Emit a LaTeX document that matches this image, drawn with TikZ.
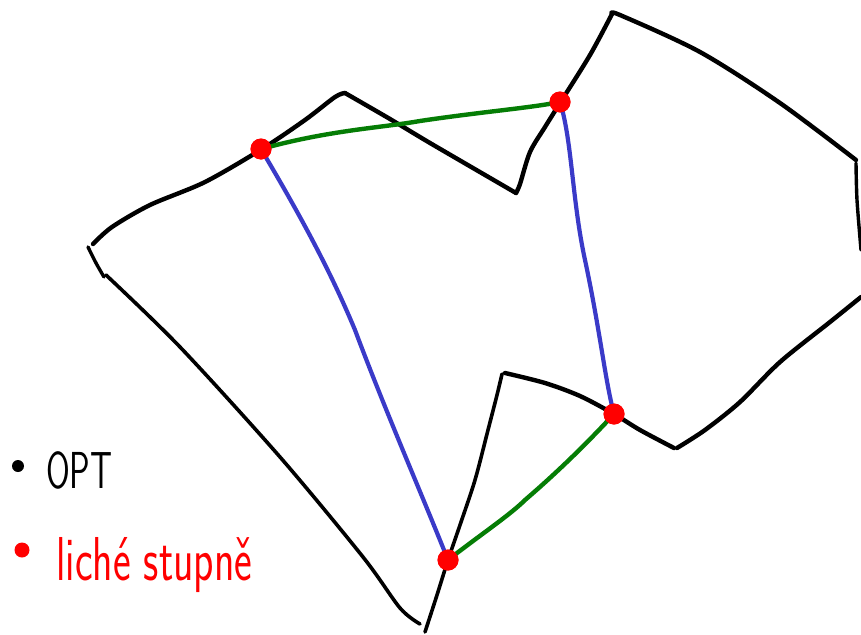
\documentclass[tikz,border=0pt]{standalone}
\usepackage{fontspec}
\begin{document}
\begin{tikzpicture}[x=1pt,y=-1pt,
  outline/.style={black,line width=4.4pt,line cap=round,line join=round},
  blueedge/.style={draw=edgeblue,line width=4.2pt,line cap=round},
  greenedge/.style={draw=edgegreen,line width=4.4pt,line cap=round},
  vertex/.style={circle,fill=red,inner sep=0pt,minimum size=21pt},
  legdot/.style={circle,inner sep=0pt}]
\definecolor{edgeblue}{RGB}{58,58,200}
\definecolor{edgegreen}{RGB}{5,125,5}
\useasboundingbox (0,0) rectangle (861,634);
\clip (0,0) rectangle (861,634);
% black outline (hand drawn)
\draw[outline] plot[smooth,tension=0.5] coordinates {(93,244) (112,227) (150,205) (205,182) (262,149) (305,120) (335,97) (345,93)};
\draw[outline] plot[smooth,tension=0.4] coordinates {(345,93) (390,119) (430,143) (516,193)};
\draw[outline] plot[smooth,tension=0.5] coordinates {(516,193) (520,184) (530,152) (545,127) (560,103) (590,55) (612,14)};
\draw[outline] plot[smooth,tension=0.5] coordinates {(612,14) (620,15) (700,52) (780,103) (856,160)};
\draw[outline,line width=3.4pt] plot[smooth,tension=0.5] coordinates {(856,163) (857,200) (861,250)};
\draw[outline] plot[smooth,tension=0.5] coordinates {(861,297) (830,322) (780,362) (740,402) (705,430) (677,448)};
\draw[outline] plot[smooth,tension=0.5] coordinates {(674,448) (640,430) (614,414) (580,396) (545,383) (505,373)};
\draw[outline,line width=3.6pt] plot[smooth,tension=0.5] coordinates {(502,374) (497,395) (488,430) (475,480) (460,525) (448,560) (437,595) (425,632)};
\draw[outline,line width=3.4pt] plot[smooth,tension=0.5] coordinates {(88,247) (96,263) (104,277)};
\draw[outline,line width=3.6pt] plot[smooth,tension=0.5] coordinates {(106,275) (180,347) (280,457) (363,557) (400,608) (420,624)};
% odd-degree vertices
\node[vertex] (a) at (261,149) {};
\node[vertex] (b) at (560,102) {};
\node[vertex] (c) at (614,414) {};
\node[vertex] (d) at (448,560) {};
% matching and tour edges
\draw[greenedge] (a.center) .. controls (330,130) and (380,128) .. (420,121) .. controls (480,112) and (530,108) .. (b.center);
\draw[greenedge] (d.center) .. controls (480,535) and (510,515) .. (525,500) .. controls (560,470) and (590,440) .. (c.center);
\draw[blueedge] (a.center) .. controls (300,215) and (330,270) .. (355,330) .. controls (385,410) and (420,490) .. (d.center);
\draw[blueedge] (b.center) .. controls (572,140) and (572,200) .. (585,260) .. controls (600,330) and (605,380) .. (c.center);
\node[vertex] at (a) {};
\node[vertex] at (b) {};
\node[vertex] at (c) {};
\node[vertex] at (d) {};
% legend
\node[legdot,fill=black,minimum size=12pt] (l1) at (18,466) {};
\node[anchor=base west,inner sep=0pt,font=\sffamily\fontsize{52}{52}\selectfont] (t1) at (46,488) {\scalebox{0.66}[1]{OPT}};
\node[legdot,fill=red,minimum size=15pt] (l2) at (22,550) {};
\node[anchor=base west,inner sep=0pt,text=red,font=\sffamily\fontsize{62}{62}\selectfont] (t2) at (56,580) {\scalebox{0.68}[1]{liché stupně}};
\end{tikzpicture}
\end{document}
